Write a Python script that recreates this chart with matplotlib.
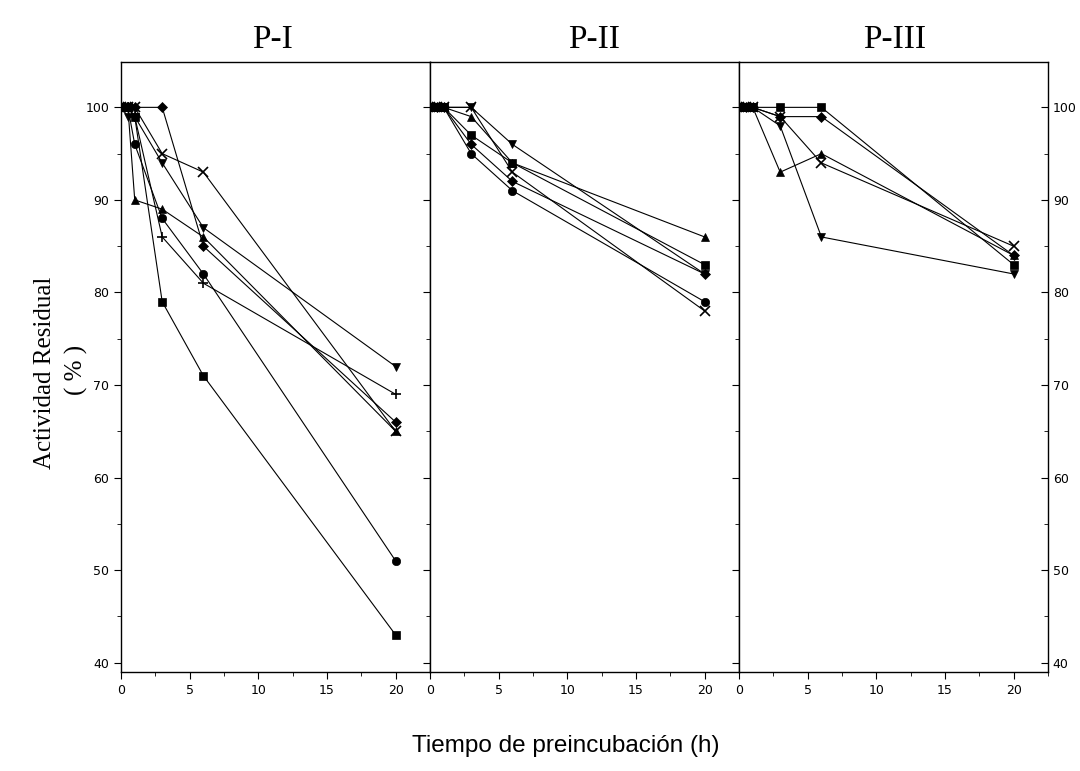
import numpy as np
import matplotlib.pyplot as plt
from matplotlib.ticker import MultipleLocator

# sampling times (h)
t = [0, 0.5, 1, 3, 6, 20]

# P-I
p1_sq = [100, 100, 99, 79, 71, 43]
p1_ci = [100, 100, 96, 88, 82, 51]
p1_up = [100, 100, 90, 89, 86, 65]
p1_dn = [100, 99, 99, 94, 87, 72]
p1_di = [100, 100, 100, 100, 85, 66]
p1_pl = [100, 100, 99, 86, 81, 69]
p1_x = [100, 100, 100, 95, 93, 65]

# P-II
p2_sq = [100, 100, 100, 97, 94, 83]
p2_ci = [100, 100, 100, 95, 91, 79]
p2_up = [100, 100, 100, 99, 94, 86]
p2_di = [100, 100, 100, 96, 92, 82]
p2_dn = [100, 100, 100, 100, 96, 82]
p2_x = [100, 100, 100, 100, 93, 78]

# P-III
p3_sq = [100, 100, 100, 100, 100, 83]
p3_up = [100, 100, 100, 93, 95, 84]
p3_di = [100, 100, 100, 99, 99, 84]
p3_dn = [100, 100, 100, 98, 86, 82]
p3_x = [100, 100, 100, 99, 94, 85]

titles = ["P-I", "P-II", "P-III"]

panels = [
    [(p1_sq, 's'), (p1_ci, 'o'), (p1_up, '^'), (p1_dn, 'v'), (p1_di, 'D'), (p1_pl, '+'), (p1_x, 'x')],
    [(p2_sq, 's'), (p2_ci, 'o'), (p2_up, '^'), (p2_di, 'D'), (p2_dn, 'v'), (p2_x, 'x')],
    [(p3_sq, 's'), (p3_up, '^'), (p3_di, 'D'), (p3_dn, 'v'), (p3_x, 'x')],
]

fig = plt.figure(figsize=(10.8, 7.71), dpi=100)
left, w = 121 / 1080, 309 / 1080
bottom, h = 1 - 672 / 771, 610 / 771
title_x = [272, 594, 895]

for i, series in enumerate(panels):
    ax = fig.add_axes([left + i * w, bottom, w, h])
    for vals, m in series:
        if m in ('+', 'x'):
            ms, mew = 7, 1.2
        elif m == 'D':
            ms, mew = 5, 0.5
        else:
            ms, mew = 6, 0.5
        ax.plot(t, vals, color='black', lw=0.8, marker=m, ms=ms,
                mew=mew, mfc='black', mec='black')
    ax.set_xlim(0, 22.5)
    ax.set_ylim(39, 104.9)
    ax.xaxis.set_major_locator(MultipleLocator(5))
    ax.xaxis.set_minor_locator(MultipleLocator(2.5))
    ax.yaxis.set_major_locator(MultipleLocator(10))
    ax.yaxis.set_minor_locator(MultipleLocator(5))
    ax.tick_params(axis='x', which='both', direction='out', top=False, labelsize=9)
    ax.tick_params(axis='x', which='major', length=5)
    ax.tick_params(axis='x', which='minor', length=3)
    if i == 0:
        ax.tick_params(axis='y', which='both', left=True, right=True, labelleft=True,
                       direction='out', labelsize=9)
    else:
        ax.tick_params(axis='y', which='both', left=False, labelleft=False)
    if i == 2:
        ax.tick_params(axis='y', which='both', right=True, labelright=True,
                       direction='in', labelsize=9)
    else:
        ax.tick_params(axis='y', which='both', right=True, direction='in' if i else 'out')
    ax.tick_params(axis='y', which='major', length=5)
    ax.tick_params(axis='y', which='minor', length=3)
    for s in ax.spines.values():
        s.set_linewidth(1.0)
    fig.text(title_x[i] / 1080, 1 - 40 / 771, titles[i], ha='center', va='center',
             fontsize=24, family='Liberation Serif')

# right-side ticks of panel 1 point inward like the others
for tk in fig.axes[0].yaxis.get_major_ticks() + fig.axes[0].yaxis.get_minor_ticks():
    tk.tick2line.set_marker(0)

fig.text(45 / 1080, 1 - 373 / 771, "Actividad Residual", rotation=90, ha='center',
         va='center', fontsize=18, family='Liberation Serif')
fig.text(76 / 1080, 1 - 370 / 771, "( % )", rotation=90, ha='center',
         va='center', fontsize=18, family='Liberation Serif')
fig.text(566 / 1080, 1 - 746 / 771, "Tiempo de preincubación (h)", ha='center',
         va='center', fontsize=17.5, family='Liberation Sans')

fig.savefig("out.png", dpi=100)
